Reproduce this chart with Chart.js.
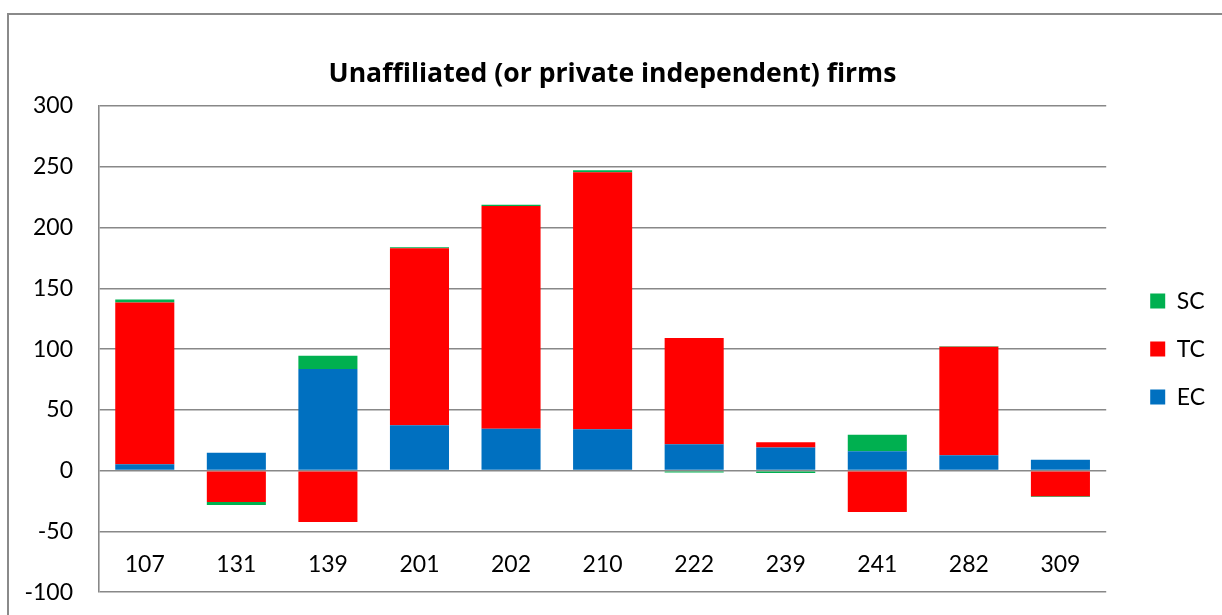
<!DOCTYPE html>
<html>
<head>
<meta charset="utf-8">
<script src="https://cdn.jsdelivr.net/npm/chart.js"></script>
<style>
  html, body { margin: 0; padding: 0; background: #fff; overflow: hidden; }
  #wrap { position: relative; width: 1222px; height: 615px; overflow: hidden; }
  #chart { position: absolute; left: 0; top: 0; }
  #frame {
    position: absolute; left: 7px; top: 13px; width: 1300px; height: 700px;
    border-left: 2px solid #8a8a8a; border-top: 2px solid #8a8a8a;
    pointer-events: none;
  }
</style>
</head>
<body>
<div id="wrap">
  <!-- the canvas runs a little past the bottom edge, as the reference is cropped there -->
  <canvas id="chart" width="1222" height="632"></canvas>
  <div id="frame"></div>
</div>
<script>
// chart data
const firms = ['107', '131', '139', '201', '202', '210', '222', '239', '241', '282', '309'];
const ecValues = [5.3, 14.8, 83.6, 37.4, 34.4, 34.1, 21.8, 19, 16, 12.7, 9];
const tcValues = [133, -25.8, -42.3, 145.6, 183.3, 211.5, 87.4, 4.4, -34, 89.3, -21.1];
const scValues = [2.5, -2.5, 11, 0.8, 1, 1.6, -1.5, -2, 13.5, 0.3, -0.5];
const yTicks = [-100, -50, 0, 50, 100, 150, 200, 250, 300];

const gridGray = '#888888';
const font = 'Lato, "Open Sans", sans-serif';

const ctx = document.getElementById('chart').getContext('2d');
new Chart(ctx, {
  type: 'bar',
  data: {
    labels: firms,
    datasets: [
      { label: 'EC', data: ecValues, backgroundColor: '#0070C0' },
      { label: 'TC', data: tcValues, backgroundColor: '#FF0000' },
      { label: 'SC', data: scValues, backgroundColor: '#00B050' }
    ]
  },
  options: {
    responsive: false,
    animation: false,
    maintainAspectRatio: false,
    datasets: { bar: { categoryPercentage: 1, barPercentage: 0.645 } },
    layout: { padding: { left: 10, right: 7, top: 0, bottom: 6 } },
    plugins: {
      tooltip: { enabled: false },
      title: {
        display: true,
        text: 'Unaffiliated (or private independent) firms',
        color: '#000',
        font: { family: '"Open Sans", Lato, sans-serif', size: 26.6, weight: 'bold' },
        padding: { top: 58.2, bottom: 15.9 }
      },
      legend: {
        position: 'right',
        fullSize: false,
        reverse: true,
        labels: {
          boxWidth: 15,
          boxHeight: 15,
          padding: 25,
          color: '#000',
          font: { family: font, size: 23 }
        }
      }
    },
    scales: {
      x: {
        stacked: true,
        position: { y: -75 },
        grid: { display: false, drawTicks: false },
        border: { display: false },
        ticks: {
          color: '#000',
          padding: -11,
          maxRotation: 0,
          autoSkip: false,
          font: { family: font, size: 23 }
        }
      },
      y: {
        stacked: true,
        min: yTicks[0],
        max: yTicks[yTicks.length - 1],
        afterFit: (s) => { s.width = 89; },
        afterBuildTicks: (s) => { s.ticks = yTicks.map(v => ({ value: v })); },
        grid: { color: gridGray, lineWidth: 1.6, drawTicks: false },
        border: { display: true, color: gridGray, width: 1.6 },
        ticks: {
          color: '#000',
          padding: 26,
          font: { family: font, size: 23 }
        }
      },
      // invisible spacer between the plot and the legend
      gap: {
        position: 'right',
        display: true,
        afterFit: (s) => { s.width = 19; },
        grid: { display: false, drawTicks: false },
        border: { display: false },
        ticks: { display: false }
      }
    }
  }
});
</script>
</body>
</html>
